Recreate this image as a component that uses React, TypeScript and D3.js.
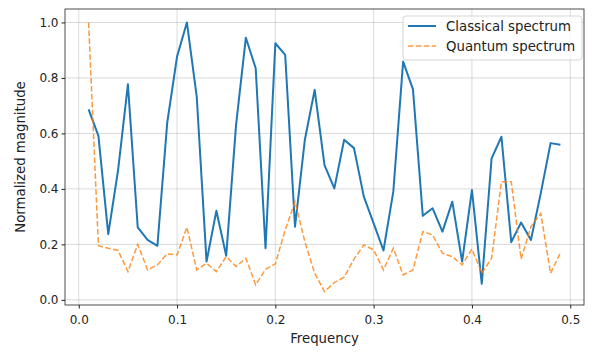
import React, { useRef, useEffect } from "react";
import * as d3 from "d3";

const frequencies = d3.range(1, 50).map((i) => i / 100);

const classical = [
  0.687, 0.591, 0.237, 0.468, 0.777, 0.261, 0.216, 0.195, 0.639, 0.877,
  1.0, 0.733, 0.138, 0.321, 0.159, 0.63, 0.945, 0.835, 0.186, 0.925,
  0.883, 0.264, 0.577, 0.757, 0.486, 0.402, 0.577, 0.547, 0.372, 0.276,
  0.178, 0.39, 0.859, 0.759, 0.303, 0.33, 0.246, 0.354, 0.138, 0.396,
  0.058, 0.51, 0.588, 0.208, 0.279, 0.216, 0.384, 0.565, 0.559,
];

const quantum = [
  1.0, 0.195, 0.186, 0.178, 0.102, 0.2, 0.108, 0.126, 0.166, 0.162,
  0.262, 0.108, 0.132, 0.102, 0.156, 0.12, 0.15, 0.054, 0.11, 0.13,
  0.252, 0.354, 0.21, 0.096, 0.03, 0.062, 0.082, 0.147, 0.198, 0.18,
  0.108, 0.186, 0.09, 0.108, 0.246, 0.234, 0.168, 0.156, 0.126, 0.183,
  0.096, 0.15, 0.426, 0.426, 0.147, 0.264, 0.312, 0.096, 0.17,
];

const xTicks = [0.0, 0.1, 0.2, 0.3, 0.4, 0.5];
const yTicks = [0.0, 0.2, 0.4, 0.6, 0.8, 1.0];

const seriesNames = ["Classical spectrum", "Quantum spectrum"];

const App = () => {
  const svgRef = useRef<SVGSVGElement>(null);

  useEffect(() => {
    const svg = d3.select(svgRef.current);
    svg.selectAll("*").remove();

    const width = 596;
    const height = 356;
    const margin = { top: 9, right: 12, bottom: 51, left: 65 };
    const font = "DejaVu Sans, sans-serif";

    const x = d3
      .scaleLinear()
      .domain([-0.014, 0.514])
      .range([margin.left, width - margin.right]);

    const y = d3
      .scaleLinear()
      .domain([-0.0185, 1.0485])
      .range([height - margin.bottom, margin.top]);

    // grid
    const grid = svg.append("g").attr("stroke", "#b0b0b0").attr("stroke-opacity", 0.6).attr("stroke-width", 0.8);
    xTicks.forEach((t) => {
      grid.append("line").attr("x1", x(t)).attr("x2", x(t)).attr("y1", margin.top).attr("y2", height - margin.bottom);
    });
    yTicks.forEach((t) => {
      grid.append("line").attr("x1", margin.left).attr("x2", width - margin.right).attr("y1", y(t)).attr("y2", y(t));
    });

    // lines
    const line = d3
      .line<number>()
      .x((_, i) => x(frequencies[i]))
      .y((d) => y(d));

    svg
      .append("path")
      .datum(classical)
      .attr("fill", "none")
      .attr("stroke", "#1f77b4")
      .attr("stroke-width", 2)
      .attr("stroke-linejoin", "round")
      .attr("d", line);

    svg
      .append("path")
      .datum(quantum)
      .attr("fill", "none")
      .attr("stroke", "#ff7f0e")
      .attr("stroke-opacity", 0.8)
      .attr("stroke-width", 1.5)
      .attr("stroke-dasharray", "5.55,2.4")
      .attr("d", line);

    // axes
    const xAxis = d3.axisBottom(x).tickValues(xTicks).tickFormat(d3.format(".1f")).tickSize(3.5).tickSizeOuter(0);
    const yAxis = d3.axisLeft(y).tickValues(yTicks).tickFormat(d3.format(".1f")).tickSize(3.5).tickSizeOuter(0);

    const gx = svg.append("g").attr("transform", `translate(0,${height - margin.bottom})`).call(xAxis);
    const gy = svg.append("g").attr("transform", `translate(${margin.left},0)`).call(yAxis);
    [gx, gy].forEach((g) => {
      g.select(".domain").remove();
      g.selectAll("text").attr("font-family", font).attr("font-size", 12).attr("fill", "#222");
      g.selectAll("line").attr("stroke", "#222");
    });
    gx.selectAll("text").attr("dy", "1.0em");

    svg
      .append("rect")
      .attr("x", margin.left)
      .attr("y", margin.top)
      .attr("width", width - margin.left - margin.right)
      .attr("height", height - margin.top - margin.bottom)
      .attr("fill", "none")
      .attr("stroke", "#222")
      .attr("stroke-width", 0.8);

    // axis labels
    svg
      .append("text")
      .attr("x", (margin.left + width - margin.right) / 2)
      .attr("y", 343)
      .attr("text-anchor", "middle")
      .attr("font-family", font)
      .attr("font-size", 13.3)
      .attr("fill", "#222")
      .text("Frequency");

    svg
      .append("text")
      .attr("transform", `translate(25,${(margin.top + height - margin.bottom) / 2}) rotate(-90)`)
      .attr("text-anchor", "middle")
      .attr("font-family", font)
      .attr("font-size", 13.3)
      .attr("fill", "#222")
      .text("Normalized magnitude");

    // legend
    const legend = svg.append("g").attr("transform", "translate(403,16)");
    legend
      .append("rect")
      .attr("width", 179)
      .attr("height", 44)
      .attr("rx", 3)
      .attr("fill", "white")
      .attr("fill-opacity", 0.8)
      .attr("stroke", "#cccccc")
      .attr("stroke-width", 0.8);
    seriesNames.forEach((name, i) => {
      const ly = 10 + i * 20;
      legend
        .append("line")
        .attr("x1", 5)
        .attr("x2", 33)
        .attr("y1", ly)
        .attr("y2", ly)
        .attr("stroke", i === 0 ? "#1f77b4" : "#ff7f0e")
        .attr("stroke-opacity", i === 0 ? 1 : 0.8)
        .attr("stroke-width", i === 0 ? 2 : 1.5)
        .attr("stroke-dasharray", i === 0 ? null : "5.55,2.4");
      legend
        .append("text")
        .attr("x", 43)
        .attr("y", ly)
        .attr("dy", "0.35em")
        .attr("font-family", font)
        .attr("font-size", 13.3)
        .attr("fill", "#222")
        .text(name);
    });
  }, []);

  return (
    <svg
      ref={svgRef}
      width={596}
      height={356}
      style={{ position: "absolute", left: 0, top: 0, background: "white" }}
    ></svg>
  );
};

export default App;
